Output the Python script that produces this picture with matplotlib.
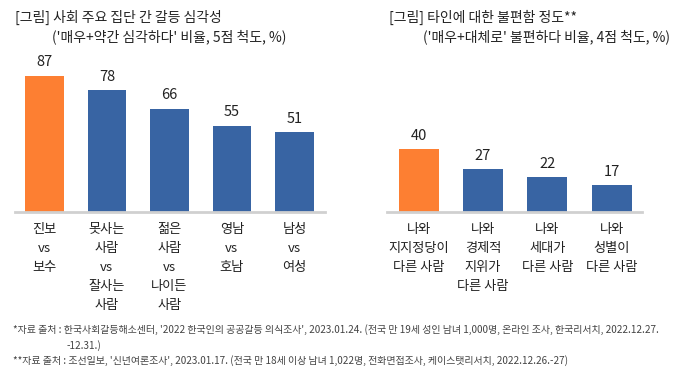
import matplotlib.pyplot as plt

plt.rcParams['font.family'] = ['Noto Sans CJK KR', 'DejaVu Sans']

# 왼쪽: 사회 주요 집단 간 갈등 심각성
left_title = "[그림] 사회 주요 집단 간 갈등 심각성"
left_sub = "('매우+약간 심각하다' 비율, 5점 척도, %)"
left_cats = ["진보\nvs\n보수", "못사는\n사람\nvs\n잘사는\n사람", "젊은\n사람\nvs\n나이든\n사람",
             "영남\nvs\n호남", "남성\nvs\n여성"]
left_vals = [87, 78, 66, 55, 51]

# 오른쪽: 타인에 대한 불편함 정도
right_title = "[그림] 타인에 대한 불편함 정도**"
right_sub = "('매우+대체로' 불편하다 비율, 4점 척도, %)"
right_cats = ["나와\n지지정당이\n다른 사람", "나와\n경제적\n지위가\n다른 사람",
              "나와\n세대가\n다른 사람", "나와\n성별이\n다른 사람"]
right_vals = [40, 27, 22, 17]

notes = [
    "*자료 출처 : 한국사회갈등해소센터, '2022 한국인의 공공갈등 의식조사', 2023.01.24. (전국 만 19세 성인 남녀 1,000명, 온라인 조사, 한국리서치, 2022.12.27.",
    "-12.31.)",
    "**자료 출처 : 조선일보, '신년여론조사', 2023.01.17. (전국 만 18세 이상 남녀 1,022명, 전화면접조사, 케이스탯리서치, 2022.12.26.-27)",
]

ORANGE = "#FD7F32"
BLUE = "#3864A3"

fig = plt.figure(figsize=(6.78, 3.78), dpi=100)
W, H = 678, 378


def px_axes(x0, x1, ybase, ytop):
    return fig.add_axes([x0 / W, 1 - ybase / H, (x1 - x0) / W, (ybase - ytop) / H])


def draw(ax, cats, vals, xlim):
    colors = [ORANGE] + [BLUE] * (len(vals) - 1)
    xs = range(len(vals))
    ax.bar(xs, vals, width=0.62, color=colors)
    for x, v in zip(xs, vals):
        ax.text(x, v + 4, str(v), ha='center', va='bottom', fontsize=10.5, color='#222222')
    for x, c in zip(xs, cats):
        ax.text(x, -7.5, c, ha='center', va='top', fontsize=9.5, color='#222222', linespacing=1.6)
    ax.set_xlim(*xlim)
    ax.set_ylim(0, 100)
    for s in ['top', 'right', 'left']:
        ax.spines[s].set_visible(False)
    ax.spines['bottom'].set_color('#D0D0D0')
    ax.spines['bottom'].set_linewidth(2)
    ax.set_xticks([])
    ax.set_yticks([])


ax1 = px_axes(15, 325, 211.7, 55.4)
draw(ax1, left_cats, left_vals, (-0.47, 4.49))
ax2 = px_axes(387, 642, 211.7, 55.4)
draw(ax2, right_cats, right_vals, (-0.49, 3.47))

fig.text(15 / W, 1 - 17 / H, left_title, fontsize=10, va='center', color='#222222')
fig.text(52 / W, 1 - 37 / H, left_sub, fontsize=10, va='center', color='#222222')
fig.text(389 / W, 1 - 17 / H, right_title, fontsize=10, va='center', color='#222222')
fig.text(423 / W, 1 - 37 / H, right_sub, fontsize=10, va='center', color='#222222')

for x, y, t in zip([13, 67, 13], [330, 346, 361], notes):
    fig.text(x / W, 1 - y / H, t, fontsize=7.2, va='center', color='#444444')

fig.savefig('out.png', dpi=100)
